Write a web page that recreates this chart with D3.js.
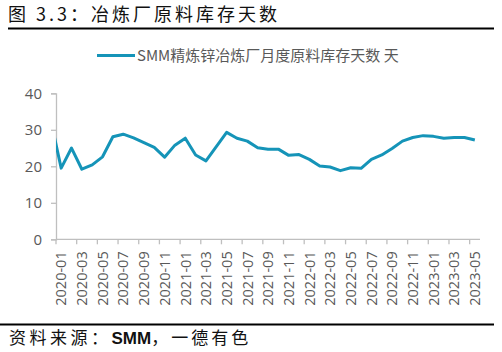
<!DOCTYPE html>
<html lang="zh">
<head>
    <meta charset="UTF-8" />
    <title>冶炼厂原料库存天数</title>
    <script src="https://d3js.org/d3.v7.min.js"></script>
    <style>
        * { margin: 0; padding: 0; box-sizing: border-box; }
        body { background: #fff; width: 502px; height: 352px; overflow: hidden; }
        svg { display: block; }
    </style>
</head>
<body>
    <svg width="502" height="352"></svg>
    <script>
        // Months (2019-12 is only partly visible at the left edge, clipped)
        var months = ["2019-12",
            "2020-01", "2020-02", "2020-03", "2020-04", "2020-05", "2020-06",
            "2020-07", "2020-08", "2020-09", "2020-10", "2020-11", "2020-12",
            "2021-01", "2021-02", "2021-03", "2021-04", "2021-05", "2021-06",
            "2021-07", "2021-08", "2021-09", "2021-10", "2021-11", "2021-12",
            "2022-01", "2022-02", "2022-03", "2022-04", "2022-05", "2022-06",
            "2022-07", "2022-08", "2022-09", "2022-10", "2022-11", "2022-12",
            "2023-01", "2023-02", "2023-03", "2023-04", "2023-05"];

        // SMM zinc smelter raw material inventory (days)
        var stockDays = [32.5,
            19.5, 25.0, 19.2, 20.4, 22.6, 28.1,
            28.8, 27.8, 26.5, 25.2, 22.5, 25.8,
            27.7, 23.1, 21.5, 25.4, 29.3, 27.7,
            26.9, 25.1, 24.7, 24.7, 23.0, 23.2,
            21.9, 20.1, 19.8, 18.8, 19.6, 19.45,
            21.9, 23.1, 24.9, 26.9, 27.9, 28.4,
            28.2, 27.7, 27.9, 27.9, 27.2];

        // x tick labels, every other month
        var tickLabels = ["2020-01", "2020-03", "2020-05", "2020-07", "2020-09", "2020-11",
            "2021-01", "2021-03", "2021-05", "2021-07", "2021-09", "2021-11",
            "2022-01", "2022-03", "2022-05", "2022-07", "2022-09", "2022-11",
            "2023-01", "2023-03", "2023-05"];
        var yTicks = [0, 10, 20, 30, 40];

        var seriesName = "SMM精炼锌冶炼厂月度原料库存天数 天";
        var lineColor = "#1594b8";
        var axisColor = "#bfbfbf";
        var labelColor = "#595959";

        var plotLeft = 56, plotRight = 480, plotTop = 93.3, plotBottom = 239.3;
        var step = (plotRight - plotLeft) / (months.length - 1);

        var svg = d3.select("svg");

        // title and rules
        svg.append("text")
            .attr("x", 8)
            .attr("y", 21)
            .attr("font-family", "'Noto Sans CJK SC', sans-serif")
            .attr("font-size", "18px")
            .attr("letter-spacing", "3px")
            .attr("fill", "#111")
            .text("图 3.3：冶炼厂原料库存天数");

        svg.append("line")
            .attr("x1", 8).attr("x2", 494)
            .attr("y1", 28.5).attr("y2", 28.5)
            .attr("stroke", "#000").attr("stroke-width", 2);

        svg.append("line")
            .attr("x1", 0).attr("x2", 494)
            .attr("y1", 324.5).attr("y2", 324.5)
            .attr("stroke", "#000").attr("stroke-width", 2);

        var source = svg.append("text")
            .attr("x", 9)
            .attr("y", 344)
            .attr("font-family", "'Noto Sans CJK SC', sans-serif")
            .attr("font-size", "17px")
            .attr("fill", "#111");
        source.append("tspan").attr("letter-spacing", "3.5px").text("资料来源：");
        source.append("tspan").attr("font-weight", "bold").attr("font-family", "'Liberation Sans', sans-serif").text("SMM");
        source.append("tspan").attr("letter-spacing", "3px").text("，一德有色");

        // scales
        var xScale = d3.scaleBand()
            .domain(months)
            .range([plotLeft - step, plotRight])
            .padding(0);

        var yScale = d3.scaleLinear()
            .domain([0, 40])
            .range([plotBottom, plotTop]);

        // y axis
        var yAxis = d3.axisLeft(yScale)
            .tickValues(yTicks)
            .tickSize(5)
            .tickPadding(9);

        var gy = svg.append("g")
            .attr("transform", "translate(" + plotLeft + ",0)")
            .call(yAxis);
        gy.select(".domain").attr("stroke", axisColor).attr("stroke-width", 1.3);
        gy.selectAll(".tick line").attr("stroke", axisColor).attr("stroke-width", 1.3);
        gy.selectAll(".tick text")
            .attr("font-family", "'Open Sans', sans-serif")
            .attr("font-size", "15px")
            .attr("fill", labelColor);

        // x axis: labels at band centres, ticks at band edges
        var gx = svg.append("g")
            .attr("transform", "translate(0," + plotBottom + ")");

        gx.append("line")
            .attr("x1", plotLeft).attr("x2", plotRight)
            .attr("y1", 0).attr("y2", 0)
            .attr("stroke", axisColor).attr("stroke-width", 1.3);

        gx.selectAll(".xtick")
            .data(tickLabels)
            .enter()
            .append("line")
            .attr("class", "xtick")
            .attr("x1", function(d) { return xScale(d); })
            .attr("x2", function(d) { return xScale(d); })
            .attr("y1", 0).attr("y2", 5)
            .attr("stroke", axisColor).attr("stroke-width", 1.3);

        gx.selectAll(".xlabel")
            .data(tickLabels)
            .enter()
            .append("text")
            .attr("class", "xlabel")
            .attr("transform", function(d) {
                return "translate(" + (xScale(d) + xScale.bandwidth() / 2) + ",12) rotate(-90)";
            })
            .attr("dy", "0.36em")
            .attr("text-anchor", "end")
            .attr("font-family", "'Open Sans', sans-serif")
            .attr("font-size", "14.5px")
            .attr("fill", labelColor)
            .text(function(d) { return d; });

        // line, clipped to the plot area
        svg.append("clipPath")
            .attr("id", "plotClip")
            .append("rect")
            .attr("x", plotLeft).attr("y", 60)
            .attr("width", plotRight - plotLeft + 10).attr("height", plotBottom - 60);

        var line = d3.line()
            .x(function(d, i) { return xScale(months[i]) + xScale.bandwidth() / 2; })
            .y(function(d) { return yScale(d); });

        svg.append("path")
            .datum(stockDays)
            .attr("clip-path", "url(#plotClip)")
            .attr("d", line)
            .attr("fill", "none")
            .attr("stroke", lineColor)
            .attr("stroke-width", 3)
            .attr("stroke-linejoin", "round");

        // legend
        svg.append("line")
            .attr("x1", 97).attr("x2", 135)
            .attr("y1", 55.5).attr("y2", 55.5)
            .attr("stroke", lineColor).attr("stroke-width", 3);

        svg.append("text")
            .attr("x", 137)
            .attr("y", 61)
            .attr("font-family", "'Noto Sans CJK SC', sans-serif")
            .attr("font-size", "15px")
            .attr("fill", labelColor)
            .text(seriesName);
    </script>
</body>
</html>
